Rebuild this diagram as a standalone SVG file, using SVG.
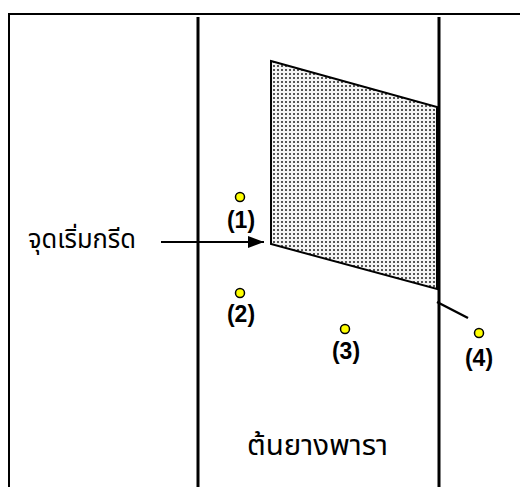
<svg xmlns="http://www.w3.org/2000/svg" width="520" height="487" viewBox="0 0 520 487">
<style>
.lbl{font-family:"Liberation Sans",Arial,sans-serif;font-weight:bold;font-size:23px;text-anchor:middle;fill:#000}
.th{font-family:"Noto Sans Thai","DejaVu Sans",sans-serif;fill:#000}
.dot{fill:#ffff00;stroke:#000;stroke-width:1.5}
.ln{stroke:#000;fill:none}
</style>
<defs>
<pattern id="dots" width="4" height="4" patternUnits="userSpaceOnUse">
<rect width="4" height="4" fill="#f4f4f4"/>
<rect x="1" y="1" width="2" height="2" fill="#555"/>
</pattern>
<marker id="ah" markerWidth="16" markerHeight="12" refX="16" refY="6" orient="auto" markerUnits="userSpaceOnUse" viewBox="0 0 16 12">
<path d="M0,0 L16,6 L0,12 z" fill="#000"/>
</marker>
</defs>
<rect x="9" y="14" width="520" height="480" fill="#fff" class="ln" stroke-width="2"/>
<g id="trees">
<line x1="198" y1="17" x2="198" y2="487" class="ln" stroke-width="3"/>
<line x1="439" y1="17" x2="439" y2="487" class="ln" stroke-width="3"/>
</g>
<g id="cut">
<polygon points="271,61 437,107 437,289 271,244" fill="url(#dots)" stroke="#000" stroke-width="2"/>
</g>
<g id="connectors">
<line x1="161" y1="242" x2="264" y2="242" class="ln" stroke-width="2" marker-end="url(#ah)"/>
<line x1="437" y1="302" x2="468" y2="318" class="ln" stroke-width="2.5"/>
</g>
<g id="start"><text x="28" y="248" class="th" font-size="26" textLength="108" lengthAdjust="spacingAndGlyphs">จุดเริ่มกรีด</text></g>
<g id="p1"><circle cx="240" cy="197" r="4.5" class="dot"/><text x="241" y="228" class="lbl">(1)</text></g>
<g id="p2"><circle cx="240" cy="293" r="4.5" class="dot"/><text x="241" y="322" class="lbl">(2)</text></g>
<g id="p3"><circle cx="345" cy="329" r="4.5" class="dot"/><text x="346" y="359" class="lbl">(3)</text></g>
<g id="p4"><circle cx="479" cy="333" r="4.5" class="dot"/><text x="479" y="366" class="lbl">(4)</text></g>
<g id="tree"><text x="247" y="455" class="th" font-size="28" textLength="141" lengthAdjust="spacingAndGlyphs">ต้นยางพารา</text></g>
</svg>
